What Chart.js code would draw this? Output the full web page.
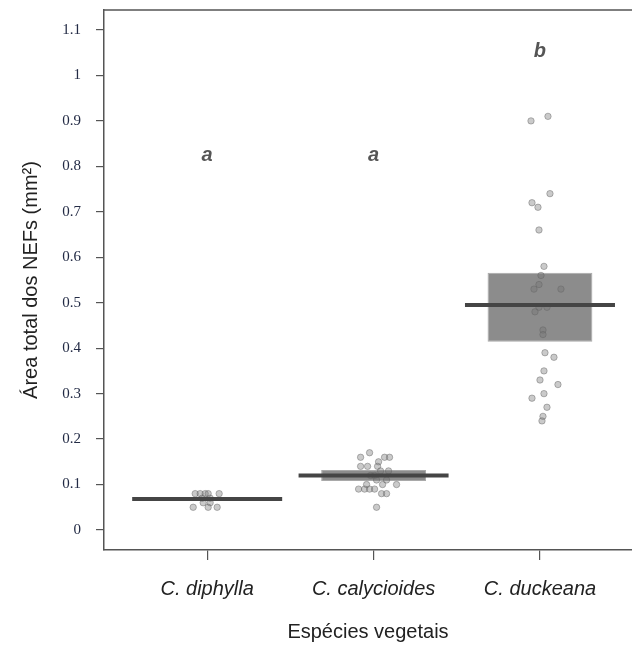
<!DOCTYPE html>
<html>
<head>
<meta charset="utf-8">
<script src="https://cdn.jsdelivr.net/npm/chart.js@4.4.1/dist/chart.umd.min.js"></script>
<style>
  html, body { margin: 0; padding: 0; background: #fff; }
  #wrap { width: 632px; height: 646px; }
</style>
</head>
<body>
<div id="wrap"><canvas id="chart"></canvas></div>
<script>
// categories and summary values (mean + interval box)
const categories = ['C. diphylla', 'C. calycioides', 'C. duckeana'];
const means = [0.068, 0.12, 0.495];
const boxLow = [0.064, 0.108, 0.414];
const boxHigh = [0.072, 0.132, 0.566];
const groupLetters = ['a', 'a', 'b'];
const letterLevels = [0.812, 0.812, 1.04];
const yTicks = [0, 0.1, 0.2, 0.3, 0.4, 0.5, 0.6, 0.7, 0.8, 0.9, 1, 1.1];

// raw observations, with the horizontal jitter (category units)
const diphyllaValues = [0.08, 0.08, 0.08, 0.08, 0.08, 0.07, 0.07, 0.06, 0.06, 0.05, 0.05, 0.05];
const diphyllaJitter = [-0.072, -0.042, -0.012, 0.006, 0.072, -0.03, 0.018, -0.024, 0.018, -0.084, 0.006, 0.06];

const calycioidesValues = [0.17, 0.16, 0.16, 0.16, 0.15, 0.14, 0.14, 0.14, 0.13, 0.13, 0.12, 0.12,
    0.11, 0.11, 0.10, 0.10, 0.10, 0.09, 0.09, 0.09, 0.09, 0.08, 0.08, 0.05];
const calycioidesJitter = [-0.024, -0.078, 0.066, 0.096, 0.03, -0.078, -0.036, 0.024, 0.042, 0.09, 0.006, -0.018,
    0.018, 0.078, -0.042, 0.054, 0.138, -0.09, -0.054, -0.024, 0.006, 0.048, 0.078, 0.018];

const duckeanaValues = [0.91, 0.90, 0.74, 0.72, 0.71, 0.66, 0.58, 0.56, 0.54, 0.53, 0.53, 0.49, 0.49,
    0.48, 0.44, 0.43, 0.39, 0.38, 0.35, 0.33, 0.32, 0.30, 0.29, 0.27, 0.25, 0.24];
const duckeanaJitter = [0.048, -0.054, 0.06, -0.048, -0.012, -0.006, 0.024, 0.006, -0.006, -0.036, 0.126, -0.006, 0.042,
    -0.03, 0.018, 0.018, 0.03, 0.084, 0.024, 0, 0.108, 0.024, -0.048, 0.042, 0.018, 0.012];

const groups = [
    { values: diphyllaValues, jitter: diphyllaJitter },
    { values: calycioidesValues, jitter: calycioidesJitter },
    { values: duckeanaValues, jitter: duckeanaJitter }
];

const sansFont = "'Liberation Sans', Arial, sans-serif";
const serifFont = "'Liberation Serif', 'Times New Roman', serif";

const pointData = [];
groups.forEach((g, i) => {
    g.values.forEach((v, k) => pointData.push({ x: i + g.jitter[k], y: v }));
});

// top frame line + significance letters
const framePlugin = {
    id: 'frameAndLetters',
    afterDatasetsDraw(chart) {
        const { ctx, chartArea, scales } = chart;
        ctx.save();
        ctx.strokeStyle = '#555';
        ctx.lineWidth = 1.5;
        ctx.beginPath();
        ctx.moveTo(chartArea.left, chartArea.top);
        ctx.lineTo(chartArea.right, chartArea.top);
        ctx.stroke();

        ctx.fillStyle = '#555';
        ctx.font = `italic bold 20px ${sansFont}`;
        ctx.textAlign = 'center';
        ctx.textBaseline = 'alphabetic';
        groupLetters.forEach((letter, i) => {
            ctx.fillText(letter, scales.x.getPixelForValue(i), scales.y.getPixelForValue(letterLevels[i]));
        });
        ctx.restore();
    }
};

const chart = new Chart(document.getElementById('chart'), {
    type: 'scatter',
    data: {
        datasets: [
            {
                type: 'scatter',
                label: 'Mean',
                data: means.map((m, i) => ({ x: i, y: m })),
                pointStyle: 'line',
                pointRadius: 75,
                pointBorderWidth: 4,
                pointBorderColor: '#454545',
                order: 0
            },
            {
                type: 'scatter',
                label: 'Observations',
                data: pointData,
                pointRadius: 3.2,
                pointBorderWidth: 1,
                pointBackgroundColor: 'rgba(115, 115, 115, 0.38)',
                pointBorderColor: 'rgba(100, 100, 100, 0.45)',
                order: 1
            },
            {
                type: 'bar',
                label: 'Interval',
                data: boxLow.map((lo, i) => ({ x: i, y: [lo, boxHigh[i]] })),
                backgroundColor: '#8c8c8c',
                borderColor: '#a9a9a9',
                borderWidth: 1,
                borderSkipped: false,
                categoryPercentage: 1,
                barPercentage: 0.63,
                order: 2
            }
        ]
    },
    options: {
        responsive: true,
        maintainAspectRatio: false,
        animation: false,
        events: [],
        layout: { autoPadding: false, padding: { top: 10, right: 0, bottom: 0, left: 0 } },
        plugins: {
            legend: { display: false },
            tooltip: { enabled: false }
        },
        scales: {
            x: {
                type: 'linear',
                min: -0.62,
                max: 2.553,
                offset: false,
                afterFit: (scale) => { scale.height = 96; scale.paddingLeft = 0; scale.paddingRight = 0; },
                afterBuildTicks: (scale) => { scale.ticks = categories.map((c, i) => ({ value: i })); },
                grid: { drawOnChartArea: false, drawTicks: true, tickLength: 10, color: '#555', lineWidth: 1.2, offset: false },
                border: { display: true, color: '#555', width: 1.5 },
                ticks: {
                    padding: 17,
                    maxRotation: 0,
                    color: '#222',
                    font: { family: sansFont, size: 20, style: 'italic' },
                    callback: (value) => categories[value]
                },
                title: {
                    display: true,
                    text: 'Espécies vegetais',
                    color: '#222',
                    font: { family: sansFont, size: 20 },
                    padding: { top: 0, bottom: 2 }
                }
            },
            y: {
                type: 'linear',
                min: -0.044,
                max: 1.144,
                afterFit: (scale) => { scale.width = 104; scale.paddingTop = 0; scale.paddingBottom = 0; },
                afterBuildTicks: (scale) => { scale.ticks = yTicks.map(v => ({ value: v })); },
                grid: { drawOnChartArea: false, drawTicks: true, tickLength: 8, color: '#555', lineWidth: 1.2 },
                border: { display: true, color: '#555', width: 1.5 },
                ticks: {
                    padding: 15,
                    color: '#232b45',
                    font: { family: serifFont, size: 15 },
                    callback: (value) => String(Math.round(value * 10) / 10)
                },
                title: {
                    display: true,
                    text: 'Área total dos NEFs (mm²)',
                    color: '#222',
                    font: { family: sansFont, size: 20 },
                    padding: { top: 19, bottom: 0 }
                }
            }
        }
    },
    plugins: [framePlugin]
});
</script>
</body>
</html>
